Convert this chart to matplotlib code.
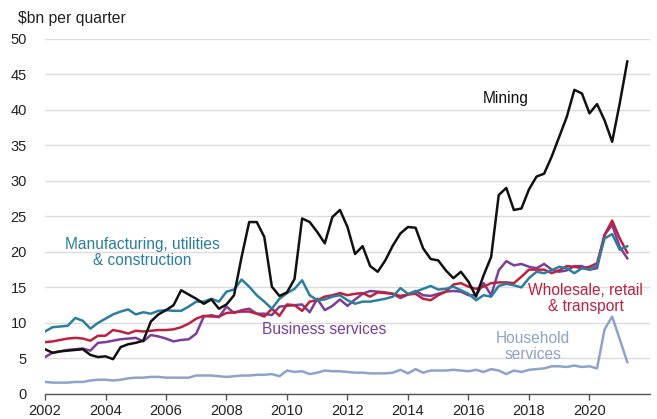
import numpy as np
import matplotlib
matplotlib.use("Agg")
import matplotlib.pyplot as plt

plt.rcParams['font.family'] = ['Liberation Sans', 'DejaVu Sans']

# quarterly, 2002 Q1 onwards ($bn per quarter)
mining = [6.3, 5.8, 6.0, 6.1, 6.2, 6.3, 5.5, 5.2, 5.3, 4.9,
          6.6, 7.0, 7.2, 7.5, 10.2, 11.2, 11.8, 12.5, 14.6, 14.0,
          13.4, 12.7, 13.3, 12.0, 12.6, 13.9, 19.3, 24.2, 24.2, 22.1,
          15.1, 13.8, 14.3, 16.2, 24.7, 24.2, 22.8, 21.2, 24.9, 25.9,
          23.5, 19.7, 20.8, 18.0, 17.2, 18.8, 20.9, 22.6, 23.5, 23.4,
          20.5, 19.0, 18.8, 17.4, 16.3, 17.2, 15.8, 13.7, 16.7, 19.3,
          28.0, 29.0, 25.9, 26.1, 28.8, 30.6, 31.0, 33.4, 36.2, 39.0,
          42.8, 42.3, 39.5, 40.8, 38.5, 35.5, 40.9, 46.8]
manufacturing = [8.8, 9.4, 9.5, 9.6, 10.7, 10.3, 9.2, 10.0, 10.6, 11.2,
                 11.6, 11.9, 11.2, 11.5, 11.3, 11.7, 11.8, 11.7, 11.7, 12.3,
                 13.0, 13.0, 13.4, 13.0, 14.4, 14.7, 16.1, 15.1, 13.9, 13.0,
                 12.0, 13.4, 14.2, 14.8, 16.0, 13.9, 13.2, 13.3, 13.7, 13.9,
                 13.2, 12.7, 13.0, 13.0, 13.2, 13.4, 13.7, 14.9, 14.1, 14.4,
                 14.8, 15.2, 14.7, 14.8, 15.1, 14.6, 14.1, 13.2, 13.9, 13.7,
                 15.2, 15.5, 15.3, 15.0, 16.3, 17.2, 17.0, 17.4, 17.9, 17.7,
                 17.0, 17.7, 17.5, 18.1, 21.9, 22.5, 20.3, 20.8]
wholesale = [7.3, 7.4, 7.6, 7.8, 7.9, 7.8, 7.5, 8.2, 8.2, 9.0,
             8.8, 8.5, 8.9, 8.8, 8.9, 9.0, 9.0, 9.1, 9.4, 9.9,
             10.6, 11.0, 10.9, 10.9, 11.4, 11.5, 11.6, 11.6, 11.3, 10.9,
             12.0, 11.0, 12.6, 12.5, 11.7, 13.0, 13.2, 13.7, 13.9, 14.2,
             13.9, 14.1, 14.2, 13.7, 14.3, 14.2, 14.1, 13.8, 14.0, 14.1,
             13.4, 13.2, 13.9, 14.4, 15.4, 15.6, 15.1, 14.8, 15.1, 15.6,
             15.7, 15.7, 15.6, 16.5, 17.5, 17.5, 17.5, 17.0, 17.4, 18.0,
             17.9, 17.7, 17.9, 18.4, 22.4, 24.4, 21.9, 19.9]
business = [5.2, 5.8, 6.0, 6.2, 6.3, 6.4, 6.1, 7.2, 7.3, 7.5,
            7.7, 7.8, 7.9, 7.4, 8.3, 8.1, 7.8, 7.4, 7.6, 7.7,
            8.5, 10.9, 11.1, 10.8, 12.3, 11.4, 11.8, 12.0, 11.3, 11.3,
            11.1, 12.3, 12.4, 12.5, 12.6, 11.5, 13.4, 11.8, 12.4, 13.3,
            12.4, 13.3, 14.1, 14.5, 14.4, 14.3, 14.1, 13.5, 14.0, 14.5,
            13.9, 13.8, 14.1, 14.4, 14.5, 14.4, 13.9, 13.9, 15.6, 13.9,
            17.4, 18.7, 18.1, 18.3, 17.9, 17.7, 18.3, 17.5, 17.2, 17.4,
            18.0, 18.0, 17.5, 17.7, 22.4, 23.8, 20.7, 19.1]
household = [1.7, 1.6, 1.6, 1.6, 1.7, 1.7, 1.9, 2.0, 2.0, 1.9,
             2.0, 2.2, 2.3, 2.3, 2.4, 2.4, 2.3, 2.3, 2.3, 2.3,
             2.6, 2.6, 2.6, 2.5, 2.4, 2.5, 2.6, 2.6, 2.7, 2.7,
             2.8, 2.5, 3.3, 3.1, 3.2, 2.8, 3.0, 3.3, 3.2, 3.2,
             3.1, 3.0, 3.0, 2.9, 2.9, 2.9, 3.0, 3.4, 2.9, 3.5,
             3.0, 3.3, 3.3, 3.3, 3.4, 3.3, 3.2, 3.4, 3.1, 3.5,
             3.3, 2.8, 3.3, 3.1, 3.4, 3.5, 3.6, 3.9, 3.9, 3.8,
             4.0, 3.8, 3.9, 3.6, 9.1, 10.9, 7.7, 4.5]

year_ticks = [2002, 2004, 2006, 2008, 2010, 2012, 2014, 2016, 2018, 2020]
value_ticks = [0, 5, 10, 15, 20, 25, 30, 35, 40, 45, 50]

c_mining = '#111111'
c_manu = '#2a7f9f'
c_whole = '#be2140'
c_bus = '#7a3f98'
c_house = '#8ea3c9'

x = 2002 + np.arange(len(mining)) / 4.0

fig = plt.figure(figsize=(6.57, 4.19), dpi=100)
ax = fig.add_axes([0.0685, 0.0597, 0.9208, 0.8479])

lw = 1.8
ax.plot(x, household, color=c_house, lw=lw)
ax.plot(x, business, color=c_bus, lw=lw)
ax.plot(x, wholesale, color=c_whole, lw=lw)
ax.plot(x, manufacturing, color=c_manu, lw=lw)
ax.plot(x, mining, color=c_mining, lw=lw)

ax.set_xlim(2002, 2022)
ax.set_ylim(0, 50)
ax.set_xticks(year_ticks)
ax.set_yticks(value_ticks)
ax.yaxis.grid(True, color='#dcdcdc', lw=1.0)
ax.set_axisbelow(True)
for s in ['top', 'right', 'left']:
    ax.spines[s].set_visible(False)
ax.spines['bottom'].set_color('#555555')
ax.spines['bottom'].set_linewidth(1.0)
ax.tick_params(axis='y', length=0, pad=13, labelsize=10.5, labelcolor='#222222')
ax.tick_params(axis='x', length=4, width=1.0, color='#555555', pad=3,
               labelsize=10.5, labelcolor='#222222')

fig.text(18 / 657, 1 - 19 / 419, '$bn per quarter', fontsize=11.3,
         color='#222222', ha='left', va='center')

fs = 11.2
ax.text(2017.24, 41.6, 'Mining', color=c_mining, fontsize=fs, ha='center', va='center')
ax.text(2005.22, 19.9, 'Manufacturing, utilities\n& construction', color=c_manu,
        fontsize=fs, ha='center', va='center', linespacing=1.05)
ax.text(2011.22, 9.07, 'Business services', color=c_bus, fontsize=fs,
        ha='center', va='center')
ax.text(2019.87, 13.4, 'Wholesale, retail\n& transport', color=c_whole,
        fontsize=fs, ha='center', va='center', linespacing=1.05)
ax.text(2018.13, 6.7, 'Household\nservices', color=c_house, fontsize=fs,
        ha='center', va='center', linespacing=1.05)

fig.savefig('out.png', dpi=100)
